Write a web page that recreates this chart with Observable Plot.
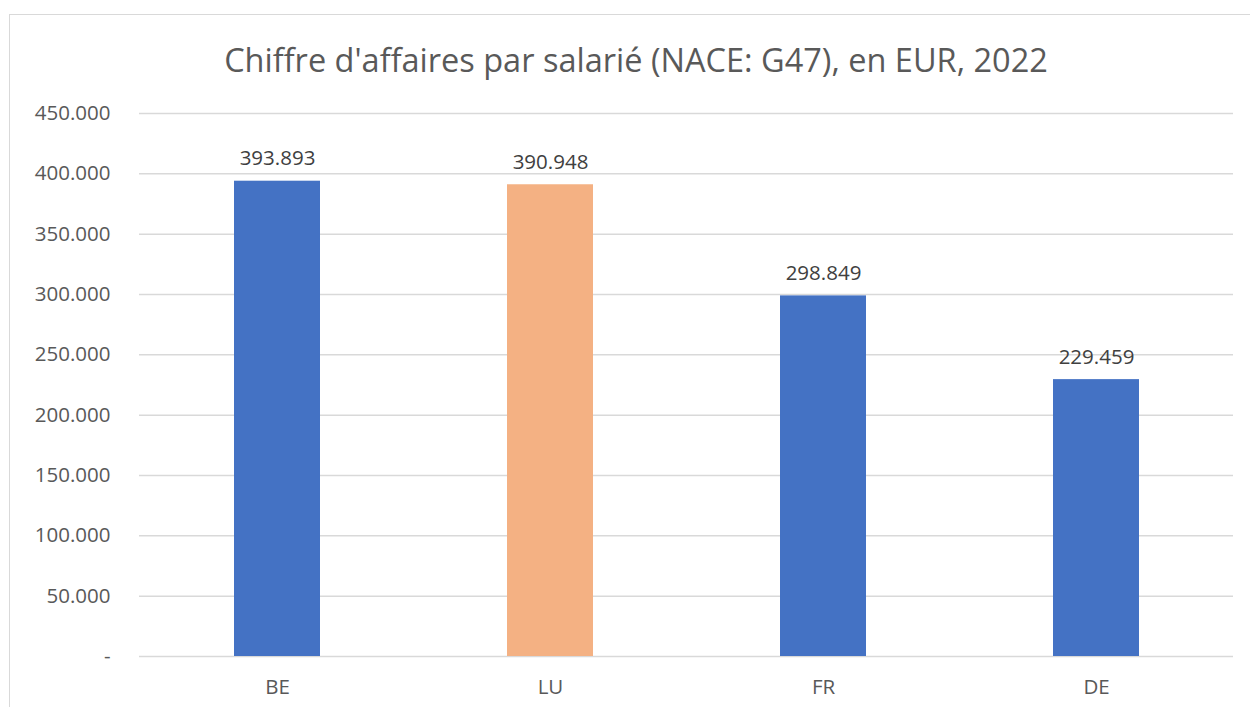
<!DOCTYPE html>
<html>
<head>
<meta charset="utf-8">
<script src="https://cdn.jsdelivr.net/npm/d3@7"></script>
<script src="https://cdn.jsdelivr.net/npm/@observablehq/plot@0.6"></script>
<style>
  html, body { margin: 0; padding: 0; background: #fff; }
  body { width: 1250px; height: 707px; position: relative; overflow: hidden; font-family: "Open Sans", sans-serif; }
  #frame { position: absolute; left: 9px; top: 14px; width: 1300px; height: 800px; border: 1.5px solid #d9d9d9; box-sizing: border-box; }
  #title { position: absolute; left: 0; width: 1272px; top: 37px; text-align: center; font-size: 32.5px; color: #595959; white-space: nowrap; }
  #chart { position: absolute; left: 0; top: 0; }
</style>
</head>
<body>
<div id="frame"></div>
<div id="chart"></div>
<div id="title">Chiffre d'affaires par salarié (NACE: G47), en EUR, 2022</div>
<script>
const countries = ["BE", "LU", "FR", "DE"];
const values = [393893, 390948, 298849, 229459];
const barColors = ["#4472C4", "#F4B183", "#4472C4", "#4472C4"];
const yTicks = [0, 50000, 100000, 150000, 200000, 250000, 300000, 350000, 400000, 450000];

const data = countries.map((c, i) => ({country: c, value: values[i], color: barColors[i]}));
const fmt = v => v === 0 ? "-" : d3.format(",")(v).replace(/,/g, ".");

const plot = Plot.plot({
  width: 1250,
  height: 707,
  marginLeft: 139,
  marginRight: 17,
  marginTop: 113,
  marginBottom: 51,
  style: {fontFamily: "Open Sans, sans-serif", fontSize: "20.5px", color: "#595959", background: "transparent", overflow: "visible"},
  x: {domain: countries, paddingInner: 0.686, paddingOuter: 0.343, label: null},
  y: {domain: [0, 450000], label: null},
  marks: [
    Plot.gridY(yTicks, {stroke: "#d9d9d9", strokeOpacity: 1, strokeWidth: 1.5}),
    Plot.barY(data, {x: "country", y: "value", fill: "color"}),
    Plot.text(data, {x: "country", y: "value", text: d => fmt(d.value), lineAnchor: "bottom", dy: -16, fill: "#404040", fontSize: 20.5}),
    Plot.axisY({ticks: yTicks, tickFormat: fmt, tickSize: 0, tickPadding: 29, fill: "#595959", fontSize: 20.5}),
    Plot.axisX({tickSize: 0, tickPadding: 23, fill: "#595959", fontSize: 20.5})
  ]
});
document.getElementById("chart").appendChild(plot);
</script>
</body>
</html>
